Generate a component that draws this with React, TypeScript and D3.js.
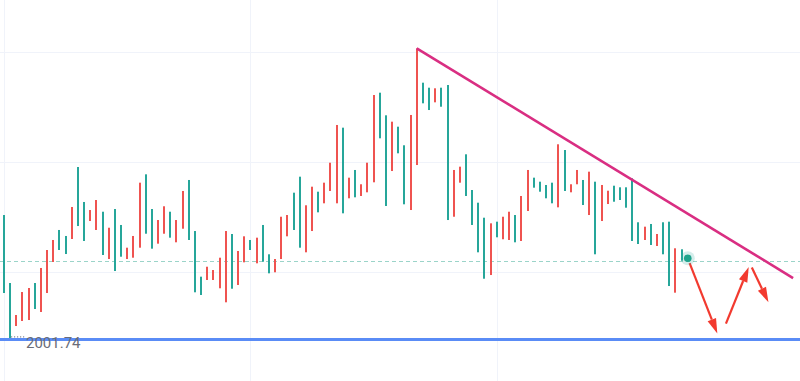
import React from "react";
import * as d3 from "d3";

const W = 800;
const H = 381;

// Candle bodies: open / close per bar (index 0..110)
const opens: number[] = [
  2010.18, 2002.0, 2006.18, 2010.36, 2011.09, 2007.27, 2014.73, 2018.0, 2019.82, 2018.0,
  2017.27, 2025.82, 2022.36, 2019.64, 2025.27, 2027.09, 2017.09, 2022.05, 2014.18, 2016.78,
  2018.42, 2020.55, 2030.24, 2020.96, 2018.24, 2023.45, 2025.95, 2020.24, 2023.45, 2028.73,
  2019.82, 2010.31, 2009.82, 2014.96, 2014.36, 2016.6, 2021.45, 2010.96, 2017.82, 2020.49,
  2018.0, 2020.24, 2015.87, 2013.76, 2016.36, 2024.05, 2024.36, 2021.64, 2018.42, 2026.13,
  2029.51, 2024.85, 2030.24, 2033.87, 2040.73, 2024.67, 2031.15, 2027.58, 2029.95, 2033.87,
  2046.18, 2038.31, 2026.0, 2041.33, 2035.58, 2026.31, 2042.55, 2054.67, 2044.67, 2043.45,
  2047.4, 2044.05, 2023.45, 2032.55, 2033.15, 2027.82, 2022.55, 2017.58, 2012.78, 2022.85,
  2020.31, 2024.05, 2024.96, 2019.4, 2027.82, 2032.55, 2029.33, 2028.6, 2027.4, 2026.49,
  2037.22, 2028.73, 2029.95, 2032.55, 2026.18, 2032.24, 2017.22, 2029.82, 2028.78, 2026.78,
  2027.09, 2025.69, 2019.64, 2019.09, 2022.24, 2018.91, 2020.91, 2017.22, 2011.45, 2018.31,
  2016.05,
];
const closes: number[] = [
  2024.36, 2012.0, 2004.18, 2005.09, 2005.27, 2012.0, 2006.73, 2010.18, 2015.82, 2021.64,
  2020.55, 2020.0, 2033.09, 2026.73, 2023.27, 2021.64, 2024.96, 2016.36, 2025.45, 2022.55,
  2016.36, 2016.6, 2018.42, 2031.76, 2025.45, 2019.15, 2020.96, 2024.96, 2019.4, 2021.87,
  2030.73, 2021.45, 2013.15, 2012.55, 2012.55, 2011.04, 2008.49, 2020.91, 2011.64, 2015.76,
  2019.82, 2015.58, 2022.55, 2017.22, 2013.95, 2016.36, 2020.49, 2028.42, 2031.33, 2017.58,
  2021.45, 2028.6, 2026.49, 2028.73, 2026.49, 2040.24, 2027.4, 2032.55, 2027.82, 2028.49,
  2030.31, 2046.6, 2042.49, 2032.36, 2040.42, 2037.04, 2025.27, 2033.45, 2048.42, 2047.51,
  2044.85, 2047.51, 2048.0, 2024.05, 2030.24, 2035.4, 2028.91, 2026.6, 2023.87, 2013.45,
  2023.15, 2019.95, 2019.82, 2024.36, 2019.64, 2025.09, 2031.15, 2030.42, 2029.82, 2030.24,
  2025.76, 2036.18, 2028.49, 2029.95, 2030.73, 2024.36, 2030.42, 2023.27, 2026.36, 2029.69,
  2029.4, 2029.4, 2031.04, 2023.04, 2019.82, 2022.73, 2018.73, 2023.04, 2023.15, 2010.24,
  2018.13,
];

const gridPrices: number[] = [2014, 2034, 2054];
const gridIndices: number[] = [0, 40, 80];

const supportPrice = 2001.74;
const supportLabel = "2001.74";
const lastPrice = 2016.05;
const markerPoint: [number, number] = [111, 2016.5];

const trendStart: [number, number] = [67, 2054.67];
const trendEnd: [number, number] = [128.1, 2012.9];

// projected path arrows: [fromIndex, fromPrice, toIndex, toPrice]
const arrowsIdx: number[][] = [
  [111.3, 2015.6, 115.8, 2002.8],
  [117.2, 2004.6, 120.9, 2014.9],
  [121.4, 2014.8, 124.1, 2008.5],
];

const UP = "#26a69a";
const DOWN = "#ef5350";

export default function App() {
  const x = d3.scaleLinear().domain([0, 110]).range([4, 4 + 110 * 6.16]);
  const y = d3.scaleLinear().domain([2014, 2034]).range([272, 162]);

  const line = d3.line<[number, number]>().x((d) => x(d[0])).y((d) => y(d[1]));

  const arrowHead = (x1: number, y1: number, x2: number, y2: number, key: string) => {
    const dx = x2 - x1;
    const dy = y2 - y1;
    const len = Math.sqrt(dx * dx + dy * dy);
    const ux = dx / len;
    const uy = dy / len;
    const hl = 15;
    const hw = 4.5;
    const bx = x2 - ux * hl;
    const by = y2 - uy * hl;
    const p = [
      [x2, y2],
      [bx - uy * hw, by + ux * hw],
      [bx + uy * hw, by - ux * hw],
    ];
    return (
      <g key={key}>
        <line x1={x1} y1={y1} x2={bx} y2={by} stroke="#f23a2f" strokeWidth={2.2} />
        <polygon points={p.map((q) => q.join(",")).join(" ")} fill="#f23a2f" />
      </g>
    );
  };

  return (
    <svg
      width={W}
      height={H}
      style={{ position: "absolute", left: 0, top: 0, background: "#ffffff" }}
      fontFamily="Roboto, 'Noto Sans', sans-serif"
    >
      <rect x={0} y={0} width={W} height={H} fill="#ffffff" />
      {gridIndices.map((g) => (
        <line key={"gv" + g} x1={Math.round(x(g)) + 0.5} x2={Math.round(x(g)) + 0.5} y1={0} y2={H} stroke="#f0f3fa" strokeWidth={1} />
      ))}
      {gridPrices.map((g) => (
        <line key={"gh" + g} x1={0} x2={W} y1={Math.round(y(g)) + 0.5} y2={Math.round(y(g)) + 0.5} stroke="#f0f3fa" strokeWidth={1} />
      ))}
      <line
        x1={0}
        x2={W}
        y1={Math.round(y(lastPrice)) + 0.5}
        y2={Math.round(y(lastPrice)) + 0.5}
        stroke="#9bd4c9"
        strokeWidth={1}
        strokeDasharray="4,3"
      />
      {opens.map((o, i) => {
        const c = closes[i];
        const top = y(Math.max(o, c));
        const bot = y(Math.min(o, c));
        const cx = Math.round(x(i));
        return (
          <rect
            key={"b" + i}
            x={cx - 1}
            y={top}
            width={2}
            height={Math.max(1, bot - top)}
            fill={c >= o ? UP : DOWN}
          />
        );
      })}
      <path d={line([trendStart, trendEnd]) || ""} stroke="#d92e82" strokeWidth={2.6} fill="none" />
      <line x1={0} x2={W} y1={y(supportPrice)} y2={y(supportPrice)} stroke="#5a8cf6" strokeWidth={3} />
      <line x1={11} x2={25} y1={y(supportPrice) - 2.5} y2={y(supportPrice) - 2.5} stroke="#8a8d96" strokeWidth={1.2} strokeDasharray="1.2,1.8" />
      <text x={26} y={y(supportPrice) + 9} fontSize={15} fill="#6a6d78">
        {supportLabel}
      </text>
      {arrowsIdx.map((a, i) => arrowHead(x(a[0]), y(a[1]), x(a[2]), y(a[3]), "a" + i))}
      <circle cx={x(markerPoint[0])} cy={y(markerPoint[1])} r={7} fill="#26a69a" opacity={0.2} />
      <circle cx={x(markerPoint[0])} cy={y(markerPoint[1])} r={3.8} fill="#1fa38c" />
    </svg>
  );
}
